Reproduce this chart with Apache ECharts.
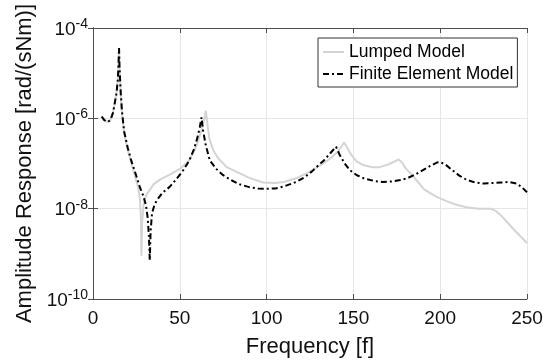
<!DOCTYPE html>
<html><head><meta charset="utf-8">
<script src="https://cdn.jsdelivr.net/npm/echarts@6/dist/echarts.min.js"></script>
<style>html,body{margin:0;padding:0;background:#fff}#c{width:553px;height:364px}</style>
</head><body><div id="c"></div>
<script>
// Lumped Model
var freqLM = [5,6.5,8.5,10,11.5,12.5,13.5,14.3,14.8,15,15.3,16,16.7,18,20,22,24,26,27,27.6,27.9,28.3,29.2,30.5,31.7,35,38.5,44,50,55,58.7,61,63,64.2,65,65.8,67,69.2,72,77,83.7,90,98,105,110,117,125,132.7,137,141,143.5,144.6,146,149,152,156,161,165,170,174,176,178,180,183,187,190.4,194,198,204,210,215,222,229,232,235,242,250];
var ampLM = [1.10e-6,9.1e-7,8.3e-7,9.1e-7,1.32e-6,2.14e-6,3.55e-6,7.1e-6,2.0e-5,3.6e-5,1.26e-5,3.55e-6,1.26e-6,4.5e-7,2.0e-7,1.05e-7,5.6e-8,3.0e-8,1.66e-8,6.3e-9,9.1e-10,5.0e-9,1.26e-8,1.9e-8,2.3e-8,3.5e-8,4.4e-8,5.6e-8,7.6e-8,1.12e-7,2.0e-7,3.55e-7,6.3e-7,1.0e-6,1.48e-6,7.9e-7,3.55e-7,2.0e-7,1.32e-7,8.3e-8,6.3e-8,4.8e-8,3.8e-8,3.7e-8,3.9e-8,4.7e-8,6.6e-8,1.0e-7,1.32e-7,1.82e-7,2.5e-7,2.9e-7,2.4e-7,1.51e-7,1.1e-7,9.1e-8,8.3e-8,8.3e-8,9.5e-8,1.12e-7,1.23e-7,1.05e-7,7.9e-8,6.0e-8,4.0e-8,2.75e-8,2.24e-8,1.82e-8,1.45e-8,1.2e-8,1.07e-8,1.0e-8,1.0e-8,8.9e-9,7.1e-9,3.6e-9,1.74e-9];
// Finite Element Model
var freqFE = [5,6.5,8.5,10,11.5,12.5,13.5,14.3,14.8,15,15.3,16,16.7,18,20,22,24.5,27,29,30.5,31.5,32.2,32.7,33.2,34,35.5,37,40,44,48,52,55.5,58,60,61.5,62.5,63.3,65,67.3,71,75,80,85,90,95,100,105,110,117,122,126,129,133,136.5,140,142,145,148,152,156,162,167,172,177,181,186,190,194,198,200,203,207,211,215,220,225,230,235,240,244,247,250];
var ampFE = [1.10e-6,9.1e-7,8.3e-7,9.1e-7,1.32e-6,2.14e-6,3.55e-6,7.1e-6,2.0e-5,3.6e-5,1.26e-5,3.55e-6,1.41e-6,5.0e-7,2.24e-7,1.17e-7,6.0e-8,3.0e-8,1.9e-8,1.2e-8,6.3e-9,2.5e-9,7.1e-10,3.2e-9,7.9e-9,1.26e-8,1.58e-8,2.24e-8,3.0e-8,4.5e-8,7.1e-8,1.17e-7,2.0e-7,3.55e-7,6.3e-7,1.05e-6,5.6e-7,2.5e-7,1.17e-7,7.6e-8,5.5e-8,4.2e-8,3.4e-8,3.0e-8,2.8e-8,2.75e-8,2.8e-8,3.1e-8,3.9e-8,5.0e-8,6.6e-8,8.5e-8,1.17e-7,1.66e-7,2.35e-7,1.58e-7,1.0e-7,7.1e-8,5.5e-8,4.7e-8,4.1e-8,3.9e-8,4.0e-8,4.3e-8,4.7e-8,5.8e-8,7.1e-8,8.7e-8,1.05e-7,1.07e-7,9.5e-8,7.1e-8,5.4e-8,4.4e-8,3.8e-8,3.6e-8,3.7e-8,3.8e-8,3.9e-8,3.6e-8,3.0e-8,2.3e-8];
var xTicks = [0,50,100,150,200,250];
var yExpTicks = [-10,-8,-6,-4];

function pairs(xs, ys){ return xs.map(function(x,i){ return [x, ys[i]]; }); }

var FONT = 'Liberation Sans';
var axisCol = '#4d4d4d';
var chart = echarts.init(document.getElementById('c'), null, {renderer:'canvas'});
var xBase = {
  type:'value', min:xTicks[0], max:xTicks[xTicks.length-1], interval:50,
  axisLine:{show:true, lineStyle:{color:axisCol, width:1}},
  axisTick:{show:true, inside:true, length:5, lineStyle:{color:axisCol}}
};
var yBase = {
  type:'log', logBase:10, min:Math.pow(10,yExpTicks[0]), max:Math.pow(10,yExpTicks[yExpTicks.length-1]), interval:2,
  axisLine:{show:true, lineStyle:{color:axisCol, width:1}},
  axisTick:{show:true, inside:true, length:5, lineStyle:{color:axisCol}}
};
chart.setOption({
  animation:false,
  backgroundColor:'#fff',
  grid:{left:93, right:26, top:28, bottom:65, containLabel:false},
  legend:{
    left:318, top:38, orient:'vertical', itemWidth:21, itemHeight:14, itemGap:2,
    padding:[4,4,3,4], borderColor:'#333', borderWidth:1, backgroundColor:'#fff',
    itemStyle:{opacity:0},
    textStyle:{fontFamily:FONT, fontSize:17.5, color:'#000', lineHeight:20},
    data:['Lumped Model','Finite Element Model']
  },
  xAxis:[
    Object.assign({}, xBase, {
      position:'bottom',
      axisLabel:{fontFamily:FONT, fontSize:19, color:'#111', margin:10},
      splitLine:{show:true, lineStyle:{color:'#e6e6e6', width:1}},
      name:'Frequency [f]', nameLocation:'middle', nameGap:37,
      nameTextStyle:{fontFamily:FONT, fontSize:22, color:'#111'}
    }),
    Object.assign({}, xBase, {position:'top', axisLabel:{show:false}, splitLine:{show:false}})
  ],
  yAxis:[
    Object.assign({}, yBase, {
      position:'left',
      axisLabel:{
        margin:5, fontFamily:FONT, color:'#111',
        formatter:function(v){ var e=Math.round(Math.log10(v)); return '{b|10}{s|'+e+'}'; },
        rich:{
          b:{fontFamily:FONT, fontSize:19, color:'#111', verticalAlign:'bottom', lineHeight:22, padding:[6,0,0,0]},
          s:{fontFamily:FONT, fontSize:14, color:'#111', verticalAlign:'top', lineHeight:22, padding:[0,0,8,0]}
        }
      },
      splitLine:{show:true, lineStyle:{color:'#e6e6e6', width:1}},
      name:'Amplitude Response [rad/(sNm)]', nameLocation:'middle', nameGap:55, nameRotate:90,
      nameTextStyle:{fontFamily:FONT, fontSize:22, color:'#111'}
    }),
    Object.assign({}, yBase, {position:'right', axisLabel:{show:false}, splitLine:{show:false}})
  ],
  series:[
    {name:'Lumped Model', type:'line', data:pairs(freqLM, ampLM), symbol:'none', smooth:false,
     lineStyle:{color:'#d4d4d4', width:2}, itemStyle:{color:'#d4d4d4'}, z:2},
    {name:'Finite Element Model', type:'line', data:pairs(freqFE, ampFE), symbol:'none', smooth:false,
     lineStyle:{color:'#000', width:2, type:[6,3,2,3]}, itemStyle:{color:'#000'}, z:3}
  ]
});
</script></body></html>
